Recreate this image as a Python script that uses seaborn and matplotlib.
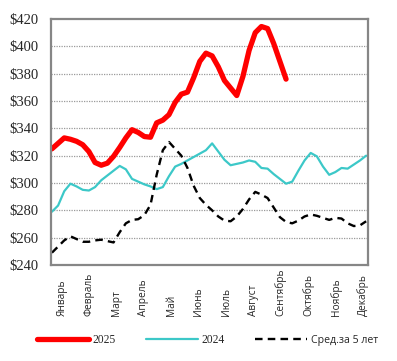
import numpy as np
import pandas as pd
import matplotlib
matplotlib.use("Agg")
import matplotlib.pyplot as plt
import seaborn as sns

months = ["Январь", "Февраль", "Март", "Апрель", "Май", "Июнь", "Июль",
          "Август", "Сентябрь", "Октябрь", "Ноябрь", "Декабрь"]

y2025 = [325, 329, 333, 332, 330.5, 328, 323, 315, 313, 314.5, 319.5, 326, 333,
         339, 337, 334, 333.5, 344, 346, 350, 359, 365, 366.5, 377, 389, 395,
         393, 385, 375, 369.5, 364, 378, 397, 410, 414.5, 413, 402, 389, 376]

y2024 = [279, 283.5, 294, 299.5, 297.5, 295, 294.5, 297, 302, 305.5, 309, 312.5,
         310, 303, 301, 299, 297.5, 295.5, 297, 305, 312, 314, 316.5, 319, 321.5,
         324, 329, 323, 317, 313, 314, 315, 316.5, 315.5, 311, 310.5, 306.5, 303,
         299.5, 301, 309, 316.5, 322, 319.5, 312, 306, 308, 311, 310.5, 313.5,
         316.5, 320]

avg5 = [249, 253.5, 258, 261, 259, 257, 257, 258, 258.5, 257.5, 256.5, 264,
        270.5, 273, 273.5, 276.5, 284, 306, 324, 330, 325, 320, 311, 298, 289,
        284, 280, 275.5, 272.5, 272, 275.5, 281, 288, 293.5, 291.5, 289, 282,
        275, 271.5, 270.5, 272.5, 275.5, 277, 276, 274.5, 273, 274.5, 274, 270.5,
        268.5, 269, 272]

yticks = [240, 260, 280, 300, 320, 340, 360, 380, 400, 420]
labels = ["2025", "2024", "Сред.за 5 лет"]

sns.set_style("white")
W, H = 397, 361
fig = plt.figure(figsize=(W / 100, H / 100), dpi=100)
ax = fig.add_axes([51 / W, 1 - 265 / H, (368 - 51) / W, (265 - 19) / H])

df24 = pd.DataFrame({"week": np.arange(len(y2024)), "val": y2024})
df5 = pd.DataFrame({"week": np.arange(len(avg5)), "val": avg5})
df25 = pd.DataFrame({"week": np.arange(len(y2025)), "val": y2025})

sns.lineplot(data=df24, x="week", y="val", color="#3CC8C8", lw=1.6, ax=ax,
             label=labels[1], legend=False)
sns.lineplot(data=df5, x="week", y="val", color="black", lw=1.7, ax=ax,
             label=labels[2], legend=False)
ax.lines[-1].set_dashes([3.2, 2.2])
sns.lineplot(data=df25, x="week", y="val", color="#FF0000", lw=3.8, ax=ax,
             label=labels[0], legend=False)
for ln in ax.lines:
    ln.set_solid_capstyle("round")
    ln.set_solid_joinstyle("round")
    ln.set_dash_capstyle("butt")

ax.set_xlim(-0.15, 51.3)
ax.set_ylim(240, 420)
ax.set_yticks(yticks)
ax.set_yticklabels([f"${v}" for v in yticks], fontfamily="Liberation Serif",
                   fontsize=10.5)
for v in yticks[1:-1]:
    ax.axhline(v, color="#9a9a9a", lw=0.9, ls=(0, (1, 1)), zorder=0)
ax.set_xlabel("")
ax.set_ylabel("")

ax.set_xticks(np.linspace(1.6, 50.5, 12))
ax.set_xticklabels(months, rotation=90, fontfamily="Open Sans", fontsize=7.3,
                   va="bottom", ha="center")
ax.tick_params(axis="x", length=0, pad=37)
ax.tick_params(axis="y", length=0, pad=9)

for s in ax.spines.values():
    s.set_color("#868686")
    s.set_linewidth(1.6)
    s.set_visible(True)

h = {ln.get_label(): ln for ln in ax.lines}
handles = [h[l] for l in labels]
leg = fig.legend(handles, labels, loc="center", bbox_to_anchor=(207.5 / W, 1 - 340 / H),
                 ncol=3, frameon=False, handlelength=4.4, columnspacing=2.6,
                 handletextpad=0.35, borderpad=0, borderaxespad=0,
                 prop={"family": "Liberation Serif", "size": 8.4})
leg.get_texts()[2].set_fontfamily("Open Sans")
leg.get_texts()[2].set_fontsize(7.6)

fig.savefig("out.png", dpi=100)
